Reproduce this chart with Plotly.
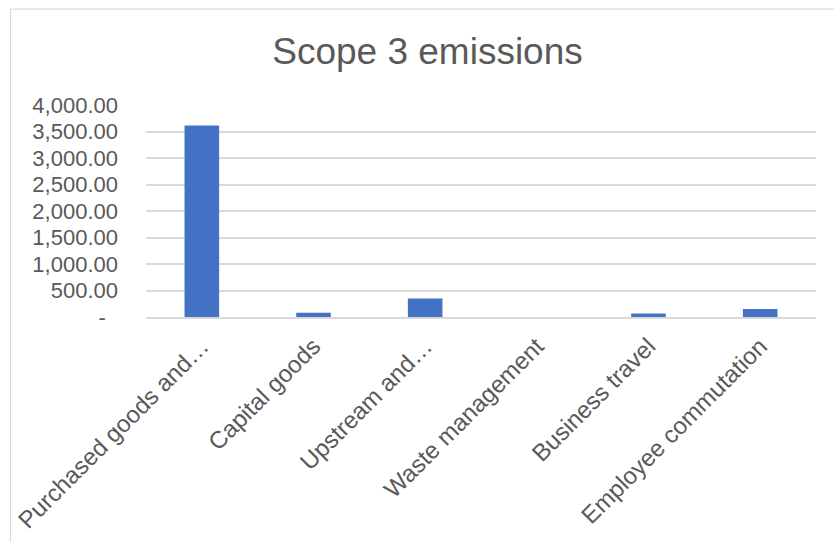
import plotly.graph_objects as go

categories = ["Purchased goods and…", "Capital goods", "Upstream and…",
              "Waste management", "Business travel", "Employee commutation"]
values = [3615, 78, 350, 0, 64, 152]
tick_vals = [0, 500, 1000, 1500, 2000, 2500, 3000, 3500, 4000]
tick_text = ["-\u00a0\u00a0", "500.00", "1,000.00", "1,500.00", "2,000.00",
             "2,500.00", "3,000.00", "3,500.00", "4,000.00"]

W, H = 834, 542
L, R, T, B = 146, 18, 105, 225.3
pw, ph = W - L - R, H - T - B

def px_x(p):
    return (p - L) / pw

def px_y(p):
    return (H - B - p) / ph

font_family = "Liberation Sans, Arial, sans-serif"
grey = "#595959"

fig = go.Figure(go.Bar(
    x=categories, y=values, marker=dict(color="#4472C4", line=dict(width=0)),
    width=0.31,
))

fig.update_layout(
    width=W, height=H,
    margin=dict(l=L, r=R, t=T, b=B, autoexpand=False),
    paper_bgcolor="white", plot_bgcolor="white",
    showlegend=False,
    font=dict(family=font_family, color=grey),
    title=dict(text="Scope 3 emissions", x=427.5 / W, xanchor="center",
               xref="container", y=1 - 51 / H, yanchor="middle", yref="container",
               font=dict(size=37, color=grey, family=font_family)),
    xaxis=dict(tickangle=-45, tickfont=dict(size=24, color=grey),
               showgrid=False, showline=True, linecolor="#D9D9D9", linewidth=1.5,
               ticks="", automargin=False, range=[-0.5, 5.5], ticklabelstandoff=4),
    yaxis=dict(range=[0, 4000], tickvals=tick_vals, ticktext=tick_text,
               tickfont=dict(size=22, color=grey), showgrid=True,
               gridcolor="#D9D9D9", gridwidth=1.5, zeroline=False, showline=False,
               ticks="", ticklabelstandoff=27, automargin=False),
    shapes=[dict(type="rect", xref="paper", yref="paper",
                 x0=px_x(10.5), x1=px_x(900), y0=px_y(600), y1=px_y(9.3),
                 line=dict(color="#D9D9D9", width=1.2), fillcolor="rgba(0,0,0,0)",
                 layer="below")],
)

fig.write_html("out.html")
